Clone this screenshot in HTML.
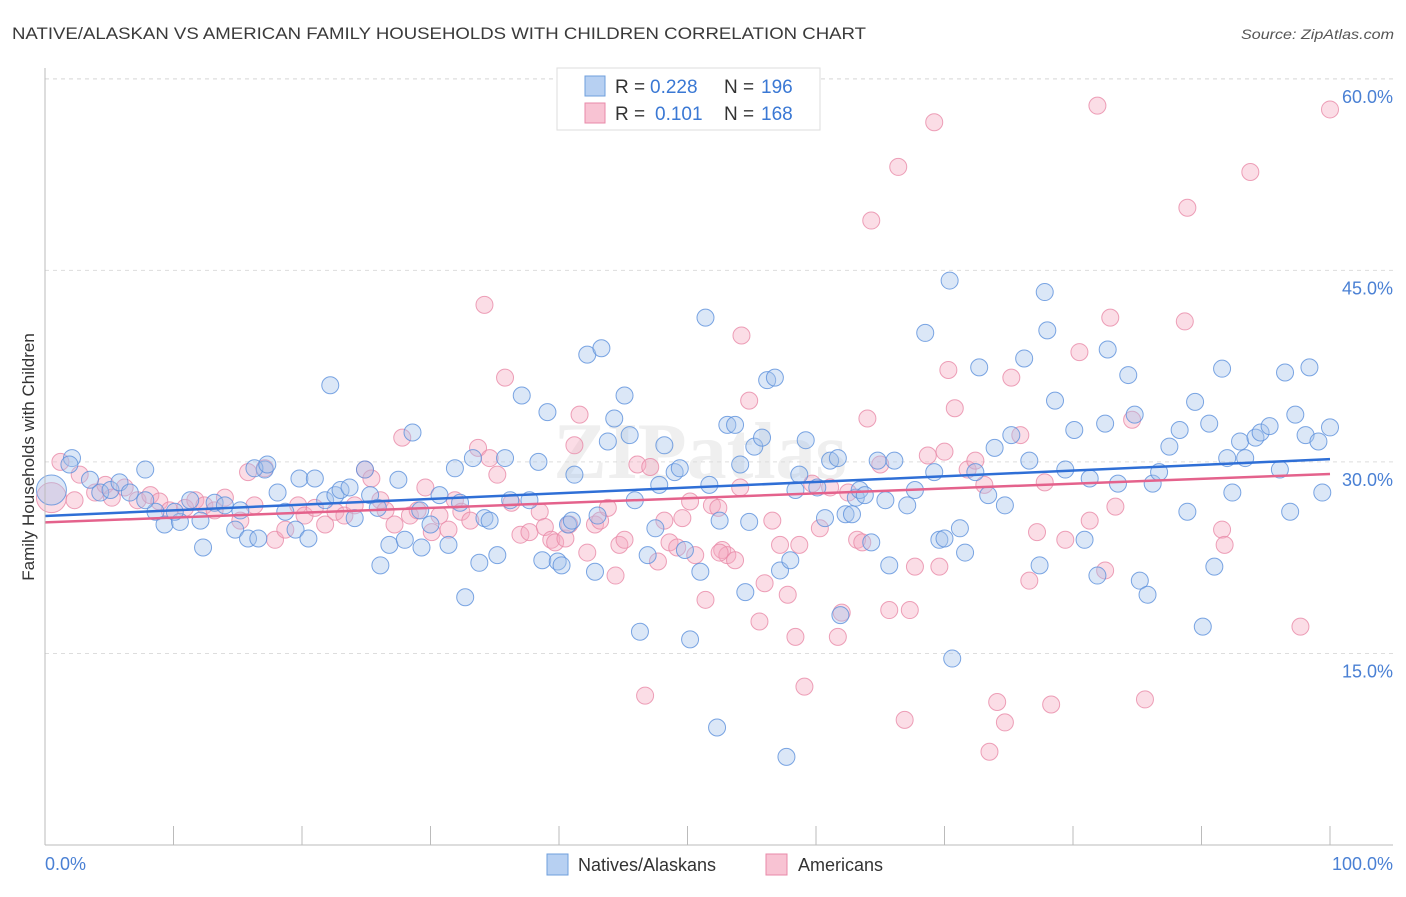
<!DOCTYPE html>
<html><head><meta charset="utf-8"><style>
html,body{margin:0;padding:0;background:#fff;}
body{width:1406px;height:892px;overflow:hidden;font-family:"Liberation Sans",sans-serif;}
</style></head><body>
<svg id="chart" width="1406" height="892" xmlns="http://www.w3.org/2000/svg" style="font-family:'Liberation Sans',sans-serif">
<text x="12" y="39" font-size="17" fill="#3a3a3a" textLength="854" lengthAdjust="spacingAndGlyphs">NATIVE/ALASKAN VS AMERICAN FAMILY HOUSEHOLDS WITH CHILDREN CORRELATION CHART</text>
<text x="1394" y="39" font-size="14" fill="#555" font-style="italic" text-anchor="end" textLength="153" lengthAdjust="spacingAndGlyphs">Source: ZipAtlas.com</text>
<text transform="translate(34,457) rotate(-90)" font-size="17" fill="#333" text-anchor="middle">Family Households with Children</text>
<text x="700" y="478" font-size="80" fill="#efefef" text-anchor="middle" font-weight="bold" font-family="Liberation Serif,serif">ZIPatlas</text>
<g id="grid"></g><g id="pts"></g><g id="lines"></g><g id="axes"></g>
<g>
<rect x="557" y="68" width="263" height="62" fill="#fff" stroke="#ddd"/>
<rect x="585" y="76" width="20" height="20" fill="#b7d0f2" stroke="#6f9fdc"/>
<rect x="585" y="103" width="20" height="20" fill="#f8c3d3" stroke="#e88aa8"/>
<text x="615" y="93" font-size="19" fill="#333">R =</text>
<text x="650" y="93" font-size="19" fill="#3a78d4">0.228</text>
<text x="724" y="93" font-size="19" fill="#333">N =</text>
<text x="761" y="93" font-size="19" fill="#3a78d4">196</text>
<text x="615" y="120" font-size="19" fill="#333">R =</text>
<text x="655" y="120" font-size="19" fill="#3a78d4">0.101</text>
<text x="724" y="120" font-size="19" fill="#333">N =</text>
<text x="761" y="120" font-size="19" fill="#3a78d4">168</text>
</g>
<g>
<rect x="547" y="854" width="21" height="21" fill="#b7d0f2" stroke="#6f9fdc"/>
<text x="578" y="871" font-size="18" fill="#333">Natives/Alaskans</text>
<rect x="766" y="854" width="21" height="21" fill="#f8c3d3" stroke="#e88aa8"/>
<text x="798" y="871" font-size="18" fill="#333">Americans</text>
</g>
</svg>
<script>
const yTicks=[15,30,45,60];
const yTickLabels=["15.0%","30.0%","45.0%","60.0%"];
const xTickLabels=["0.0%","100.0%"];
const blueX=[0.5,2.1,1.9,3.5,4.3,5.1,5.8,6.6,7.8,9.3,10.5,10.1,11.3,12.3,13.2,14.0,14.8,15.2,15.8,16.6,17.1,16.3,17.3,18.1,18.7,19.5,19.8,20.5,21.0,21.8,22.2,22.6,23.0,23.7,24.1,24.9,25.3,25.9,26.1,26.8,27.5,28.0,28.6,29.2,29.3,30.0,30.7,31.4,31.9,32.3,32.7,33.3,33.8,34.2,34.6,35.2,35.8,36.2,37.1,37.7,38.4,38.7,39.1,39.9,40.2,40.7,41.0,41.2,42.2,42.8,43.0,43.3,43.8,44.3,45.1,45.5,45.9,46.3,46.9,47.5,47.8,48.2,49.0,49.4,49.8,50.2,51.0,51.4,51.7,52.5,53.1,53.7,54.1,54.5,54.8,55.2,55.8,56.2,56.8,57.2,58.0,58.4,58.7,59.2,60.1,60.7,61.1,61.7,61.9,62.3,62.8,63.1,63.4,63.8,64.3,64.8,65.4,65.7,66.1,67.1,67.7,68.5,69.2,69.6,70.0,70.4,71.2,71.6,72.4,72.7,73.4,73.9,74.7,75.2,76.2,76.6,77.4,77.8,78.0,78.6,79.4,80.1,80.9,81.3,81.9,82.5,82.7,83.5,84.3,84.8,85.2,85.8,86.2,86.7,87.5,88.3,88.9,89.5,90.1,90.6,91.0,91.6,92.0,92.4,93.0,93.4,94.2,94.6,95.3,96.1,96.5,96.9,97.3,98.1,98.4,99.1,99.4,100,70.6,57.7,52.3,8.6,12.1,7.8];
const blueY=[27.8,30.3,29.8,28.6,27.6,27.8,28.4,27.6,29.4,25.1,25.3,26.1,27.0,23.3,26.8,26.6,24.7,26.2,24.0,24.0,29.4,29.5,29.8,27.6,26.1,24.7,28.7,24.0,28.7,27.0,36.0,27.4,27.8,28.0,25.6,29.4,27.4,26.4,21.9,23.5,28.6,23.9,32.3,26.2,23.3,25.1,27.4,23.5,29.5,26.8,19.4,30.3,22.1,25.6,25.4,22.7,30.3,27.0,35.2,27.0,30.0,22.3,33.9,22.2,21.9,25.1,25.4,29.0,38.4,21.4,25.8,38.9,31.6,33.4,35.2,32.1,27.0,16.7,22.7,24.8,28.2,31.3,29.2,29.5,23.1,16.1,21.4,41.3,28.2,25.4,32.9,32.9,29.8,19.8,25.3,31.2,31.9,36.4,36.6,21.5,22.3,27.8,29.0,31.7,28.0,25.6,30.1,30.3,18.0,25.9,25.9,27.2,27.8,27.4,23.7,30.1,27.0,21.9,30.1,26.6,27.8,40.1,29.2,23.9,24.0,44.2,24.8,22.9,29.2,37.4,27.4,31.1,26.6,32.1,38.1,30.1,21.9,43.3,40.3,34.8,29.4,32.5,23.9,28.7,21.1,33.0,38.8,28.3,36.8,33.7,20.7,19.6,28.3,29.2,31.2,32.5,26.1,34.7,17.1,33.0,21.8,37.3,30.3,27.6,31.6,30.3,31.9,32.3,32.8,29.4,37.0,26.1,33.7,32.1,37.4,31.6,27.6,32.7,14.6,6.9,9.2,26.1,25.4,27.0];
const pinkX=[0.5,1.2,2.3,2.7,3.9,4.7,5.2,6.2,7.2,8.2,8.9,9.7,10.9,11.7,12.4,13.2,14.0,15.2,15.8,16.3,17.1,17.9,18.7,19.7,20.2,21.0,21.8,22.6,23.3,24.1,24.9,25.4,26.1,26.5,27.2,27.8,28.4,29.0,29.6,30.1,30.7,31.4,31.9,32.4,33.1,33.7,34.2,34.6,35.2,35.8,36.3,37.0,37.7,38.5,38.9,39.4,39.7,40.5,40.8,41.2,41.6,42.2,42.8,43.2,43.8,44.4,44.7,45.1,46.1,46.7,47.1,47.7,48.2,48.6,49.2,49.6,50.2,50.6,51.4,51.9,52.4,52.7,53.1,53.7,54.1,54.2,54.8,55.6,56.0,56.6,57.2,57.8,58.4,58.7,59.1,59.7,60.3,61.1,61.7,62.0,62.5,63.2,63.6,64.0,64.3,65.0,65.7,66.4,66.9,67.3,67.7,68.7,69.2,69.6,70.3,70.8,71.8,72.4,73.1,73.5,74.1,74.7,75.2,75.9,76.6,77.2,77.8,78.3,79.4,80.5,81.3,81.9,82.5,82.9,83.3,84.6,85.6,88.7,88.9,91.6,91.8,93.8,97.7,100,70.0,52.5];
const pinkY=[27.2,30.0,27.0,29.0,27.6,28.2,27.2,28.0,27.0,27.4,26.9,26.2,26.4,27.0,26.6,26.2,27.2,25.4,29.2,26.6,29.5,23.9,24.7,26.6,25.8,26.4,25.1,26.1,25.8,26.6,29.4,28.7,27.0,26.2,25.1,31.9,25.8,26.2,28.0,24.5,25.8,24.7,27.0,26.1,25.4,31.1,42.3,30.3,29.0,36.6,26.8,24.3,24.5,26.1,24.9,23.9,23.7,24.0,25.1,31.3,33.7,22.9,25.1,25.4,26.4,21.1,23.5,23.9,29.8,11.7,29.6,22.2,25.4,23.7,23.3,25.6,26.9,22.7,19.2,26.6,26.4,23.1,22.7,22.3,28.0,39.9,34.8,17.5,20.5,25.4,23.5,19.6,16.3,23.5,12.4,28.3,24.8,28.0,16.3,18.2,27.6,23.9,23.7,33.4,48.9,29.8,18.4,53.1,9.8,18.4,21.8,30.5,56.6,21.8,37.2,34.2,29.4,30.1,28.2,7.3,11.2,9.6,36.6,32.1,20.7,24.5,28.4,11.0,23.9,38.6,25.4,57.9,21.5,41.3,26.5,33.3,11.4,41.0,49.9,24.7,23.5,52.7,17.1,57.6,30.8,22.9];

const NS='http://www.w3.org/2000/svg';
const X0=45,X1=1330,Y0=845,YPER=12.77;
function sx(v){return X0+(X1-X0)*v/100;}
function sy(v){return Y0-v*YPER;}
function mk(tag,attrs,parent){const e=document.createElementNS(NS,tag);for(const k in attrs)e.setAttribute(k,attrs[k]);parent.appendChild(e);return e;}
const gGrid=document.getElementById('grid'),gAxes=document.getElementById('axes'),gPts=document.getElementById('pts'),gLines=document.getElementById('lines');
yTicks.forEach((t,i)=>{
  const l=mk('line',{x1:X0,x2:1393,y1:sy(t),y2:sy(t),stroke:'#ddd','stroke-dasharray':'4,4'},gGrid);
  
  
  const tx=mk('text',{x:1393,y:sy(t)+24,'font-size':18,fill:'#4a80d4','text-anchor':'end'},gAxes);
  tx.textContent=yTickLabels[i];
  
  
});
const topGrid=mk('line',{x1:X0,x2:1393,y1:79,y2:79,stroke:'#ddd','stroke-dasharray':'4,4'},gGrid);


const ya=mk('line',{x1:X0,x2:X0,y1:68,y2:Y0,stroke:'#bbb'},gAxes);


const xa=mk('line',{x1:X0,x2:1393,y1:Y0,y2:Y0,stroke:'#bbb'},gAxes);


for(let i=1;i<=10;i++){
  const t=mk('line',{x1:sx(i*10),x2:sx(i*10),y1:826,y2:Y0,stroke:'#bbb'},gAxes);
  
  
}
[[0,'start',X0],[1,'end',1393]].forEach(([i,a,x])=>{
  const t=mk('text',{x:x,y:870,'font-size':18,fill:'#4a80d4','text-anchor':a},gAxes);
  t.textContent=xTickLabels[i];
  
  
});
function series(xs,ys,fill,stroke,name){
  xs.forEach((x,i)=>{
    const r=i===0?15:8.5;
    const c=mk('circle',{cx:sx(x),cy:sy(ys[i]),r:r,fill:fill,'fill-opacity':0.4,stroke:stroke,'stroke-opacity':0.8,'stroke-width':1},gPts);
    
    
  });
}
series(pinkX,pinkY,'#f4aac0','#e88aa8','americans');
series(blueX,blueY,'#a4c4ec','#5b90dc','natives');
function fit(xs,ys){const n=xs.length;let mx=0,my=0;for(let i=0;i<n;i++){mx+=xs[i];my+=ys[i];}mx/=n;my/=n;let sxy=0,sxx=0;for(let i=0;i<n;i++){sxy+=(xs[i]-mx)*(ys[i]-my);sxx+=(xs[i]-mx)**2;}const b=sxy/sxx;return [my-b*mx,b];}
[[pinkX,pinkY,'#e4628c','americans-trendline'],[blueX,blueY,'#2f6fd6','natives-trendline']].forEach(([xs,ys,c,n])=>{
  const [a,b]=fit(xs,ys);
  const l=mk('line',{x1:sx(0),y1:sy(a),x2:sx(100),y2:sy(a+100*b),stroke:c,'stroke-width':2.5},gLines);
  
  
});
</script>
</body></html>
